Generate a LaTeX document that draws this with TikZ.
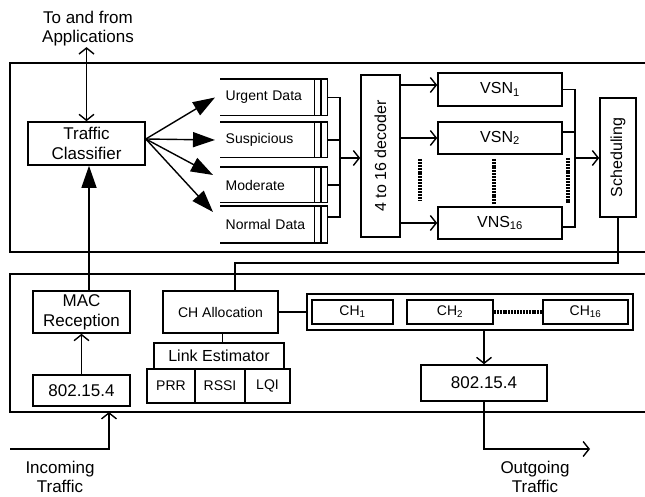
\documentclass[tikz,border=0pt]{standalone}
\usepackage{fontspec}
\setmainfont{Liberation Sans}
\usepackage{graphicx}
\usetikzlibrary{arrows.meta}
\begin{document}
\begin{tikzpicture}[x=1pt,y=-1pt, line width=1.4pt,
  box/.style={draw, line width=1.6pt, inner sep=0pt, align=center, font=\fontsize{17}{20}\selectfont},
  sbox/.style={box, font=\fontsize{14}{16}\selectfont},
  vbox/.style={box, font=\fontsize{16}{18}\selectfont},
  frame/.style={draw, line width=1.4pt, inner sep=0pt},
  queue/.style={inner sep=0pt, inner xsep=5pt, minimum width=106pt, text width=96pt, align=left, anchor=west, font=\fontsize{14}{16}\selectfont},
  qline/.style={line width=1.6pt},
  open/.style={-{Straight Barb[length=6pt,width=15pt]}},
  openboth/.style={{Straight Barb[length=6pt,width=15pt]}-{Straight Barb[length=6pt,width=15pt]}},
  fillarr/.style={-{Triangle[length=22pt,width=15pt]}},
  beads/.style={line width=3.5pt, dash pattern=on 2pt off 0.9pt},
  lbl/.style={align=center, inner sep=0pt, font=\fontsize{17}{19}\selectfont}
]
\clip (0,0) rectangle (645,497);
\fill[white] (0,0) rectangle (645,497);

% outer frames (open on the right)
\node[frame, minimum width=650pt, minimum height=189pt] (top) at (335,157.5) {};
\node[frame, minimum width=650pt, minimum height=138pt] (bot) at (335,343) {};

% upper part
\node[lbl] (app) at (88,29) {To and from\\Applications};
\node[box, minimum width=117pt, minimum height=43pt] (tc) at (86.5,143.5) {Traffic\\Classifier};

\node[queue, minimum height=35pt] (q1) at (220,97.5) {Urgent Data};
\node[queue, minimum height=34pt] (q2) at (220,140) {Suspicious};
\node[queue, minimum height=34pt] (q3) at (220,185) {Moderate};
\node[queue, minimum height=35pt] (q4) at (220,224.5) {Normal Data};
\foreach \q in {q1,q2,q3,q4}{
  \draw[qline] (\q.north west) -- (\q.north east) -- (\q.south east) -- (\q.south west);
  \draw[qline] ([xshift=-6.5pt]\q.north east) -- ([xshift=-6.5pt]\q.south east);
  \draw[qline] ([xshift=-13pt]\q.north east) -- ([xshift=-13pt]\q.south east);
}

\node[vbox, minimum width=39pt, minimum height=162pt] (dec) at (380.5,156) {\rotatebox{90}{4 to 16 decoder}};
\node[vbox, minimum width=124pt, minimum height=33pt] (vsn1) at (500,89.5) {VSN\textsubscript{1}};
\node[vbox, minimum width=124pt, minimum height=32pt] (vsn2) at (500,138) {VSN\textsubscript{2}};
\node[vbox, minimum width=124pt, minimum height=32pt] (vsn16) at (500,223) {VNS\textsubscript{16}};
\node[vbox, minimum width=36pt, minimum height=119pt] (sch) at (618,157.5) {\rotatebox{90}{Scheduling}};

% lower part
\node[box, minimum width=97pt, minimum height=42pt] (mac) at (81.5,312) {MAC\\Reception};
\node[box, minimum width=97pt, minimum height=31pt] (la) at (81.5,390.5) {802.15.4};
\node[sbox, minimum width=115pt, minimum height=42pt] (cha) at (220.5,312) {CH Allocation};
\node[vbox, minimum width=130pt, minimum height=26pt] (le) at (219,356) {Link Estimator};
\node[sbox, minimum width=48pt, minimum height=34pt] (prr) at (171,386) {PRR};
\node[sbox, minimum width=50pt, minimum height=34pt] (rssi) at (220,386) {RSSI};
\node[sbox, minimum width=45pt, minimum height=34pt] (lqi) at (267.5,386) {LQI};
\node[box, minimum width=326pt, minimum height=36pt] (chg) at (470,312) {};
\node[sbox, minimum width=81pt, minimum height=24pt] (ch1) at (352.5,312) {CH\textsubscript{1}};
\node[sbox, minimum width=86pt, minimum height=24pt] (ch2) at (450,312) {CH\textsubscript{2}};
\node[sbox, minimum width=85pt, minimum height=24pt] (ch16) at (585.5,312) {CH\textsubscript{16}};
\node[box, minimum width=126pt, minimum height=36pt] (rb) at (484,383) {802.15.4};

\node[lbl] (inc) at (60,477) {Incoming\\Traffic};
\node[lbl] (outg) at (535,476.5) {Outgoing\\Traffic};

% connectors: upper
\draw[openboth] (tc.north |- app.south) -- (tc.north);
\coordinate (tcO) at ([yshift=4.5pt]tc.east);
\draw[fillarr] (tcO) -- ([xshift=-5pt]q1.west);
\draw[fillarr] (tcO) -- ([xshift=-5pt]q2.west);
\draw[fillarr] (tcO) -- ([xshift=-7pt,yshift=10pt]q3.west);
\draw[fillarr] (tcO) -- ([xshift=-7pt,yshift=12.5pt]q4.west);

\coordinate (bus) at (340,158);
\draw (q1.east) -| (bus);
\draw (q2.east) -| (bus);
\draw (q3.east) -| (bus);
\draw ([yshift=7.5pt]q4.east) -| (bus);
\draw[open] (bus) -- (bus -| dec.west);

\coordinate (v1in) at ([yshift=4.5pt]vsn1.west);
\draw[open] (v1in -| dec.east) -- (v1in);
\draw[open] (vsn2.west -| dec.east) -- (vsn2.west);
\draw[open] (vsn16.west -| dec.east) -- (vsn16.west);

\coordinate (bus2) at (575,158);
\draw (vsn1.east) -| (bus2);
\draw ([yshift=6pt]vsn2.east) -| (bus2);
\draw ([yshift=-4pt]vsn16.east) -| (bus2);
\draw[open] (bus2) -- (bus2 -| sch.west);

\draw[beads] (420,159) -- (420,201);
\draw[beads] ([xshift=-6pt,yshift=-4pt]vsn2.south) -- ([xshift=-6pt,yshift=2pt]vsn16.north);
\draw[beads] (568,158) -- (568,204);

% connectors: between / lower
\coordinate (busY) at (0,263);
\coordinate (chaT) at ([xshift=14.5pt]cha.north);
\draw (sch.south) -- (sch.south |- busY) -| (chaT);

\coordinate (macT) at ([xshift=7.5pt]mac.north);
\draw[fillarr] (macT) -- (macT |- tc.south);
\draw[open] (la.north) -- (mac.south);

\coordinate (leT) at ([xshift=3.5pt]le.north);
\draw (leT) -- (leT |- cha.south);
\draw (cha.east) -- (chg.west);
\draw[beads] (ch2.east) -- (ch16.west);
\draw[open] (rb.north |- chg.south) -- (rb.north);

\coordinate (inS) at (10,449);
\coordinate (inT) at (109,412);
\draw[open] (inS) -| (inT);
\coordinate (outE) at (590,449);
\draw[open] (rb.south) |- (outE);
\end{tikzpicture}
\end{document}
